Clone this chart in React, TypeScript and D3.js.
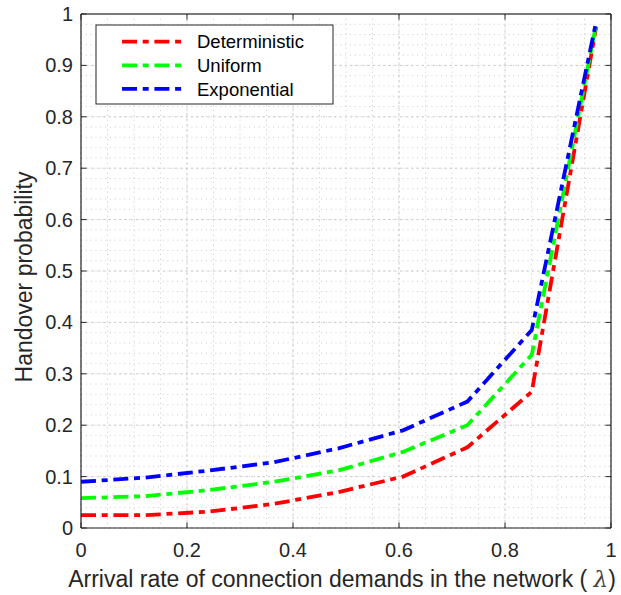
import React from "react";
import * as d3 from "d3";

const lambdaValues = [0, 0.1215, 0.243, 0.3645, 0.486, 0.6075, 0.729, 0.8505, 0.972];
const deterministic = [0.025, 0.025, 0.032, 0.047, 0.07, 0.1, 0.157, 0.265, 0.975];
const uniform = [0.058, 0.062, 0.074, 0.09, 0.112, 0.148, 0.2, 0.337, 0.98];
const exponential = [0.09, 0.098, 0.112, 0.128, 0.155, 0.19, 0.246, 0.385, 0.985];
const seriesNames = ["Deterministic", "Uniform", "Exponential"];
const seriesColors = ["#ff0000", "#00ff00", "#0000ff"];
const xTickValues = [0, 0.2, 0.4, 0.6, 0.8, 1];
const yTickValues = [0, 0.1, 0.2, 0.3, 0.4, 0.5, 0.6, 0.7, 0.8, 0.9, 1];
const xLabel = "Arrival rate of connection demands in the network ( ";
const xLabelSymbol = "λ";
const yLabel = "Handover probability";

const W = 621;
const H = 595;
const L = 81, R = 611, T = 14, B = 528;
const FONT = "'Liberation Sans', Arial, Helvetica, sans-serif";
const DASH = "15 5.7 6 5.7";

export default function App() {
  const x = d3.scaleLinear().domain([0, 1]).range([L, R]);
  const y = d3.scaleLinear().domain([0, 1]).range([B, T]);
  const allSeries = [deterministic, uniform, exponential];
  const line = d3
    .line<[number, number]>()
    .x((d) => x(d[0]))
    .y((d) => y(d[1]));

  const xMinor = d3.range(0, 1.0001, 0.05);
  const yMinor = d3.range(0, 1.0001, 0.02);

  return (
    <svg
      width={W}
      height={H}
      style={{ position: "absolute", left: 0, top: 0, background: "#fff" }}
      fontFamily={FONT}
    >
      <rect x={0} y={0} width={W} height={H} fill="#fff" />
      {/* minor grid */}
      <g stroke="#d2d2d2" strokeWidth={1} strokeDasharray="1.2 3.6">
        {xMinor.map((v, i) => (
          <line key={"xm" + i} x1={x(v)} x2={x(v)} y1={T} y2={B} />
        ))}
        {yMinor.map((v, i) => (
          <line key={"ym" + i} x1={L} x2={R} y1={y(v)} y2={y(v)} />
        ))}
      </g>
      {/* major grid */}
      <g stroke="#c8c8c8" strokeWidth={1} strokeDasharray="2 3.5">
        {xTickValues.map((v, i) => (
          <line key={"xg" + i} x1={x(v)} x2={x(v)} y1={T} y2={B} />
        ))}
        {yTickValues.map((v, i) => (
          <line key={"yg" + i} x1={L} x2={R} y1={y(v)} y2={y(v)} />
        ))}
      </g>
      {/* series */}
      {allSeries.map((s, i) => (
        <path
          key={"s" + i}
          d={line(lambdaValues.map((lv, j) => [lv, s[j]] as [number, number])) || ""}
          fill="none"
          stroke={seriesColors[i]}
          strokeWidth={3.8}
          strokeDasharray={DASH}
          strokeLinejoin="miter"
        />
      ))}
      {/* axes box */}
      <line x1={L} x2={R} y1={T} y2={T} stroke="#7a7a7a" strokeWidth={2} />
      <line x1={R} x2={R} y1={T} y2={B} stroke="#262626" strokeWidth={1.2} />
      <line x1={L} x2={L} y1={T} y2={B} stroke="#262626" strokeWidth={1.2} />
      <line x1={L} x2={R} y1={B} y2={B} stroke="#262626" strokeWidth={1.2} />
      {/* ticks */}
      <g stroke="#262626" strokeWidth={1}>
        {xTickValues.map((v, i) => (
          <g key={"xt" + i}>
            <line x1={x(v)} x2={x(v)} y1={B} y2={B - 5.5} />
            <line x1={x(v)} x2={x(v)} y1={T} y2={T + 5.5} />
          </g>
        ))}
        {yTickValues.map((v, i) => (
          <g key={"yt" + i}>
            <line x1={L} x2={L + 5.5} y1={y(v)} y2={y(v)} />
            <line x1={R} x2={R - 5.5} y1={y(v)} y2={y(v)} />
          </g>
        ))}
      </g>
      {/* tick labels */}
      <g fill="#262626" fontSize={20}>
        {xTickValues.map((v, i) => (
          <text key={"xl" + i} x={x(v)} y={557} textAnchor="middle">
            {d3.format("~g")(v)}
          </text>
        ))}
        {yTickValues.map((v, i) => (
          <text key={"yl" + i} x={L - 8} y={y(v) + 7} textAnchor="end">
            {d3.format("~g")(v)}
          </text>
        ))}
      </g>
      {/* axis labels */}
      <text x={(L + R) / 2 - 4} y={587} textAnchor="middle" fontSize={23} fill="#262626">
        {xLabel}
        <tspan fontStyle="italic" fontFamily="'DejaVu Serif', 'Liberation Serif', serif" fill="#444">
          {xLabelSymbol}
        </tspan>
        )
      </text>
      <text
        transform={`translate(31.5, 277) rotate(-90)`}
        textAnchor="middle"
        fontSize={23}
        fill="#262626"
      >
        {yLabel}
      </text>
      {/* legend */}
      <g>
        <rect x={96} y={25} width={237} height={79} fill="#fff" stroke="#262626" strokeWidth={1} />
        {seriesNames.map((n, i) => {
          const cy = 41.7 + i * 23.6;
          return (
            <g key={"lg" + i}>
              <line
                x1={122}
                x2={184}
                y1={cy}
                y2={cy}
                stroke={seriesColors[i]}
                strokeWidth={3.8}
                strokeDasharray={DASH}
              />
              <text x={197} y={cy + 6.6} fontSize={18.5} fill="#000">
                {n}
              </text>
            </g>
          );
        })}
      </g>
    </svg>
  );
}
